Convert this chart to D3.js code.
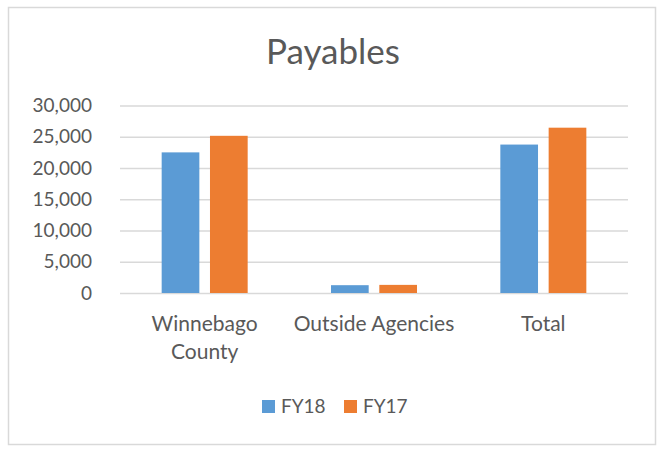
<!DOCTYPE html>
<html lang="en">
<head>
    <meta charset="UTF-8">
    <title>Payables</title>
    <script src="https://d3js.org/d3.v7.min.js"></script>
    <style>
        body { margin: 0; background: #fff; }
        text {
            font-family: Lato, 'Open Sans', sans-serif;
            fill: #595959;
        }
    </style>
</head>
<body>
<script>
    const categories = [["Winnebago", "County"], ["Outside Agencies"], ["Total"]];
    const seriesNames = ["FY18", "FY17"];
    const fy18 = [22500, 1250, 23750];
    const fy17 = [25150, 1300, 26450];
    const yTicks = [0, 5000, 10000, 15000, 20000, 25000, 30000];

    const width = 669, height = 461;
    const colors = ["#5b9bd5", "#ed7d31"];
    const margin = {left: 120, right: 41, top: 105.5, bottom: 168};

    const svg = d3.select("body").append("svg").attr("width", width).attr("height", height);

    svg.append("rect")
        .attr("x", 8.5).attr("y", 7.5)
        .attr("width", 647).attr("height", 437)
        .attr("fill", "#fff").attr("stroke", "#d9d9d9").attr("stroke-width", 1.5);

    svg.append("text")
        .attr("x", 333).attr("y", 64)
        .attr("text-anchor", "middle")
        .style("font-size", "35px")
        .text("Payables");

    const x = d3.scaleBand()
        .domain(categories.map((d, i) => i))
        .range([margin.left, width - margin.right]);

    const x1 = d3.scaleBand()
        .domain(seriesNames)
        .range([0, 86])
        .paddingInner(0.22);

    const y = d3.scaleLinear()
        .domain([0, 30000])
        .range([height - margin.bottom, margin.top]);

    const yAxis = svg.append("g")
        .attr("transform", `translate(${margin.left},0)`)
        .call(d3.axisLeft(y).tickValues(yTicks).tickSize(-(width - margin.left - margin.right)).tickPadding(28).tickFormat(d3.format(",")));
    yAxis.select(".domain").remove();
    yAxis.selectAll("line").attr("stroke", "#d9d9d9").attr("stroke-width", 1.3);
    yAxis.selectAll("text").style("font-size", "19px").attr("fill", "#595959");

    const groups = svg.append("g").selectAll("g")
        .data(categories.map((c, i) => i))
        .join("g")
        .attr("transform", i => `translate(${x(i) + x.bandwidth() / 2 - 43},0)`);

    groups.selectAll("rect")
        .data(i => [fy18[i], fy17[i]].map((v, k) => ({k, v})))
        .join("rect")
        .attr("x", d => x1(seriesNames[d.k]))
        .attr("width", x1.bandwidth())
        .attr("y", d => y(d.v))
        .attr("height", d => y(0) - y(d.v))
        .attr("fill", d => colors[d.k]);

    const labels = svg.append("g").selectAll("text")
        .data(categories)
        .join("text")
        .attr("x", (d, i) => x(i) + x.bandwidth() / 2)
        .attr("y", 331)
        .attr("text-anchor", "middle")
        .style("font-size", "21px");
    labels.selectAll("tspan")
        .data(d => d)
        .join("tspan")
        .attr("x", function() { return this.parentNode.getAttribute("x"); })
        .attr("dy", (d, i) => i === 0 ? 0 : 28)
        .text(d => d);

    const legend = svg.append("g").selectAll("g")
        .data(seriesNames)
        .join("g")
        .attr("transform", (d, i) => `translate(${262 + i * 82},400)`);
    legend.append("rect").attr("width", 13).attr("height", 13).attr("fill", (d, i) => colors[i]);
    legend.append("text").attr("x", 19).attr("y", 13).style("font-size", "19px").text(d => d);
</script>
</body>
</html>
